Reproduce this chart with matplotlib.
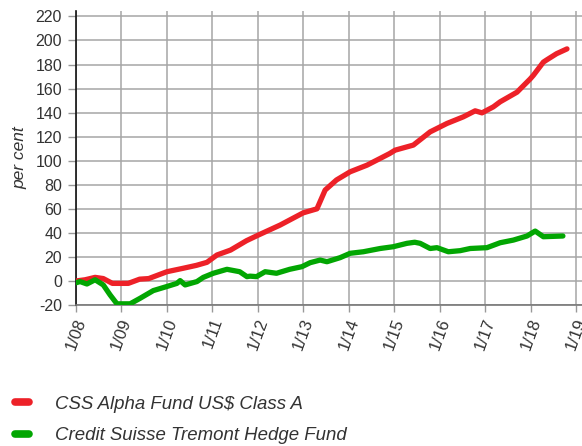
import matplotlib.pyplot as plt
from matplotlib.lines import Line2D

plt.rcParams['font.family'] = ['Liberation Sans', 'DejaVu Sans']

# decimal years and per cent values
alpha_x = [2008.0, 2008.2, 2008.42, 2008.6, 2008.8, 2009.15, 2009.4, 2009.6, 2010.0,
           2010.35, 2010.65, 2010.88, 2011.1, 2011.4, 2011.75, 2012.0, 2012.49, 2013.0,
           2013.3, 2013.48, 2013.73, 2014.03, 2014.4, 2014.69, 2014.9, 2015.02, 2015.42,
           2015.79, 2016.16, 2016.52, 2016.78, 2016.93, 2017.18, 2017.33, 2017.7, 2017.99,
           2018.06, 2018.28, 2018.36, 2018.57, 2018.8]
alpha_y = [0, 1, 3, 2, -2, -2, 1.5, 2, 7.7,
           10.5, 13, 15.5, 21.6, 25.7, 33.5, 38, 46.5, 56.7,
           60, 75.6, 84, 90.8, 96.3, 101.9, 106, 108.8, 113,
           124, 131, 136.5, 141.5, 139.8, 144.8, 149, 157, 168,
           171, 182, 184, 189, 193]

hedge_x = [2008.0, 2008.09, 2008.24, 2008.42, 2008.6, 2008.75, 2008.9, 2009.19, 2009.41,
           2009.7, 2009.99, 2010.22, 2010.29, 2010.4, 2010.66, 2010.8, 2011.02, 2011.32,
           2011.6, 2011.76, 2011.83, 2011.97, 2012.16, 2012.41, 2012.7, 2012.97, 2013.15,
           2013.37, 2013.52, 2013.81, 2014.03, 2014.32, 2014.69, 2014.98, 2015.28, 2015.45,
           2015.57, 2015.79, 2015.94, 2016.19, 2016.45, 2016.67, 2017.04, 2017.33, 2017.62,
           2017.92, 2018.1, 2018.28, 2018.71]
hedge_y = [-1.5, -0.5, -2.5, 1, -3.3, -11.6, -19, -19, -14.4,
           -8, -4.7, -2, 0.3, -3.3, -0.5, 3, 6.4, 9.7,
           7.7, 3.6, 4, 3.6, 7.7, 6.4, 9.7, 11.9, 15.2,
           17.4, 16, 19.4, 23, 24.3, 27, 28.5, 31.3, 32.2,
           31.3, 27, 27.7, 24.3, 25.2, 27, 27.7, 31.8, 34,
           37.4, 41.5, 36.8, 37.4]

tick_years = list(range(2008, 2020))
tick_labels = ['1/%02d' % (y - 2000) for y in tick_years]
y_ticks = list(range(-20, 221, 20))

labels = ['CSS Alpha Fund US$ Class A', 'Credit Suisse Tremont Hedge Fund']
red = '#ed2128'
green = '#02a602'
txt = '#333333'

fig = plt.figure(figsize=(5.82, 4.46), dpi=100)
ax = fig.add_axes([0.1306, 0.3161, 0.8694, 0.6592])

ax.plot(alpha_x, alpha_y, color=red, lw=3.8, solid_capstyle='round', solid_joinstyle='round', zorder=3)
ax.plot(hedge_x, hedge_y, color=green, lw=3.8, solid_capstyle='round', solid_joinstyle='round', zorder=3)

ax.set_xlim(2008, 2019.13)
ax.set_ylim(-20, 224.5)
ax.set_xticks(tick_years)
ax.set_xticklabels(tick_labels, rotation=70, fontsize=12, color=txt)
ax.set_yticks(y_ticks)
ax.set_yticklabels([str(v) for v in y_ticks], fontsize=11.5, color=txt)
ax.tick_params(axis='x', length=5, width=1, color='#999999', pad=3)
ax.tick_params(axis='y', length=6, width=1, color='#999999', pad=4)

ax.grid(True, color='#a6a6a6', lw=1.1)
ax.set_axisbelow(True)
for s in ['top', 'right']:
    ax.spines[s].set_visible(False)
ax.spines['left'].set_color('#111111')
ax.spines['left'].set_linewidth(1.2)
ax.spines['bottom'].set_color('#777777')
ax.spines['bottom'].set_linewidth(1.2)

ax.set_ylabel('per cent', fontsize=12.5, style='italic', color=txt, labelpad=6)

handles = [Line2D([], [], color=red, lw=5.5, solid_capstyle='round'),
           Line2D([], [], color=green, lw=5.5, solid_capstyle='round')]
leg = fig.legend(handles, labels, loc='upper left', bbox_to_anchor=(0.0254, 0.1126),
                 frameon=False, borderpad=0, borderaxespad=0, handlelength=0.77,
                 handletextpad=1.39, labelspacing=0.77,
                 prop={'size': 13.4, 'style': 'italic'})
for t in leg.get_texts():
    t.set_color(txt)

fig.savefig('out.png', dpi=100)
